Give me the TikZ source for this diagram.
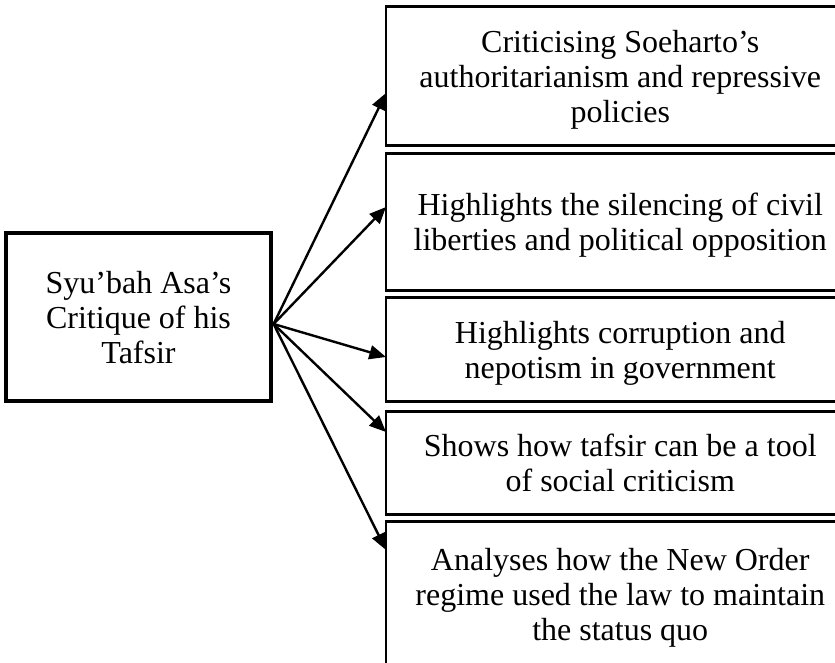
\documentclass[tikz,border=0pt]{standalone}
\usepackage{fontspec}
\setmainfont{Liberation Serif}
\usetikzlibrary{arrows.meta,calc}
\begin{document}
\begin{tikzpicture}[x=0.75pt,y=-0.75pt,
  txt/.style={align=center, inner sep=0pt, text depth=0pt,
    font=\fontsize{24pt}{26.25pt}\selectfont},
  box/.style={txt, draw, line width=2.4pt},
  rbox/.style={txt, minimum width=351pt, anchor=west},
  frame/.style={draw, line width=2.2pt},
  arr/.style={line width=1.8pt, -{Triangle[length=12.5pt,width=10.5pt]}}]
\useasboundingbox (0,0) rectangle (835,663);
\clip (0,0) rectangle (835,663);
% central topic
\node[box, minimum width=198.75pt, minimum height=126pt] (src) at (138.5,317)
  {Syu’bah Asa’s\\Critique of his\\Tafsir};
% the five findings
\node[rbox, minimum height=103.5pt] (b1) at (386,76)
  {Criticising Soeharto’s\\authoritarianism and repressive\\policies};
\node[rbox, minimum height=102pt] (b2) at (386,222)
  {Highlights the silencing of civil\\liberties and political opposition};
\node[rbox, minimum height=77.25pt] (b3) at (386,349.5)
  {Highlights corruption and\\nepotism in government};
\node[rbox, minimum height=76.5pt] (b4) at (386,463)
  {Shows how tafsir can be a tool\\of social criticism};
\node[rbox, minimum height=108pt] (b5) at (386,594)
  {Analyses how the New Order\\regime used the law to maintain\\the status quo};
% their frames run on past the right edge of the page
\foreach \b in {b1,b2,b3,b4,b5}
  \draw[frame] (\b.north west) rectangle ([xshift=80pt]\b.south east);
% fan of arrows
\coordinate (hub) at ($(src.east)+(1,7)$);
\draw[arr] (hub) -- ($(b1.west)+(0,17)$);
\draw[arr] (hub) -- ($(b2.west)+(0,-15)$);
\draw[arr] (hub) -- ($(b3.west)+(0,7.5)$);
\draw[arr] (hub) -- ($(b4.west)+(0,-31)$);
\draw[arr] (hub) -- ($(b5.west)+(0,-44)$);
\end{tikzpicture}
\end{document}
